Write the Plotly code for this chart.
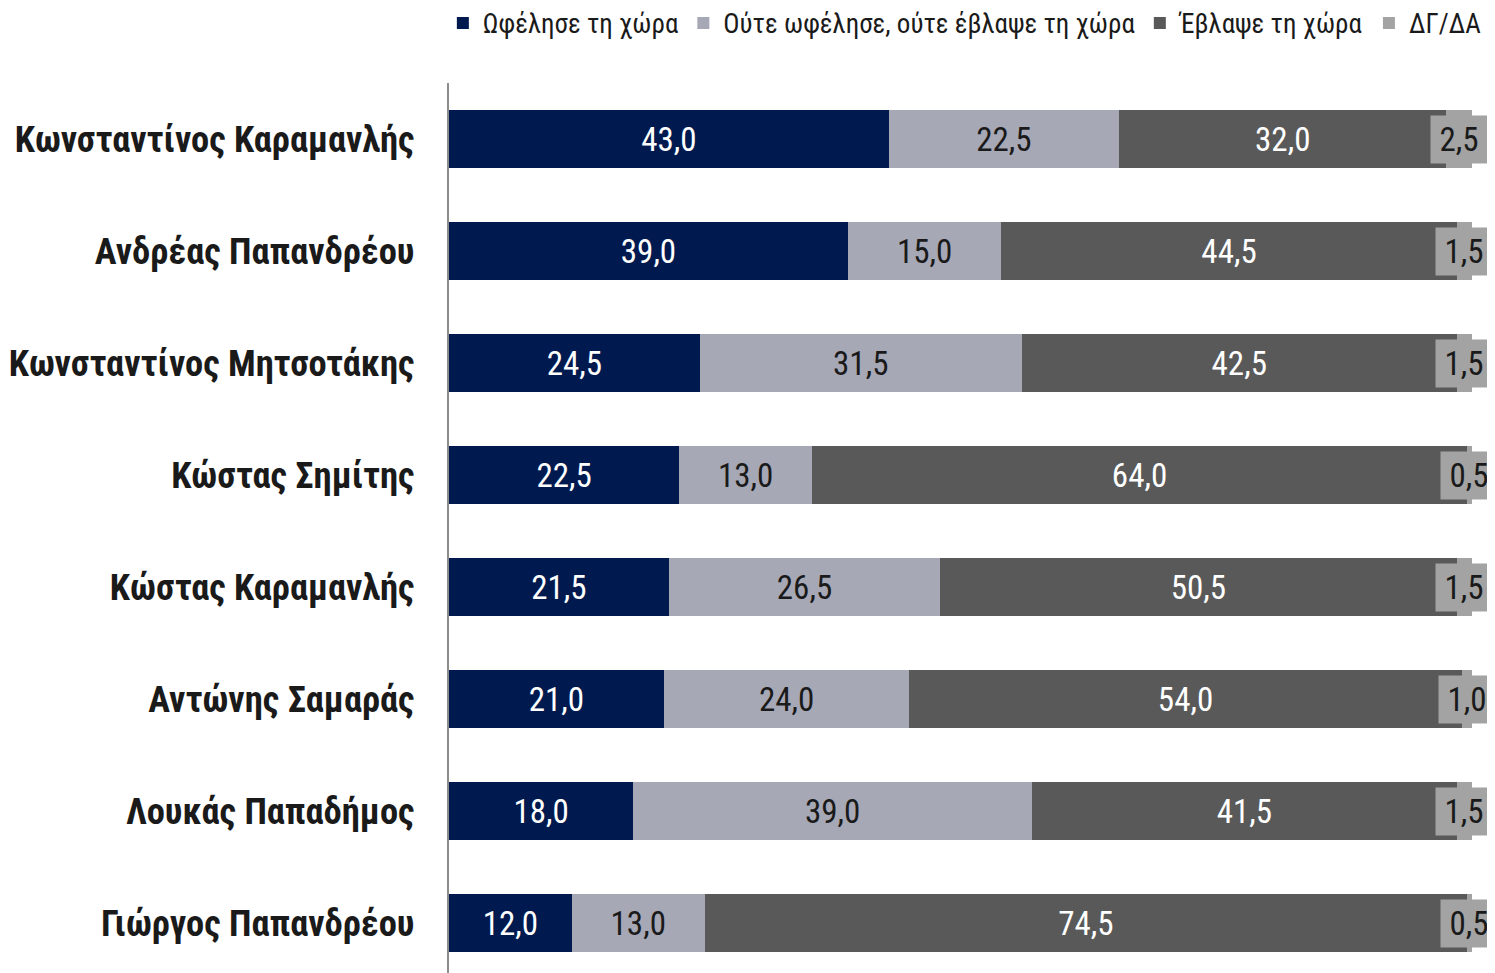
import plotly.graph_objects as go

categories = ["Κωνσταντίνος Καραμανλής", "Ανδρέας Παπανδρέου", "Κωνσταντίνος Μητσοτάκης",
              "Κώστας Σημίτης", "Κώστας Καραμανλής", "Αντώνης Σαμαράς",
              "Λουκάς Παπαδήμος", "Γιώργος Παπανδρέου"]
benefited = [43.0, 39.0, 24.5, 22.5, 21.5, 21.0, 18.0, 12.0]
neither = [22.5, 15.0, 31.5, 13.0, 26.5, 24.0, 39.0, 13.0]
harmed = [32.0, 44.5, 42.5, 64.0, 50.5, 54.0, 41.5, 74.5]
dkna = [2.5, 1.5, 1.5, 0.5, 1.5, 1.0, 1.5, 0.5]
series_names = ["Ωφέλησε τη χώρα", "Ούτε ωφέλησε, ούτε έβλαψε τη χώρα", "Έβλαψε τη χώρα", "ΔΓ/ΔΑ"]

colors = ["#001a50", "#a6a8b6", "#595959", "#a3a3a3"]
text_colors = ["white", "#1a1a1a", "white", "#1a1a1a"]
NARROW = "Liberation Sans Narrow, Arial Narrow, Roboto Condensed, Roboto, sans-serif"

fig = go.Figure()
for i, (name, vals) in enumerate(zip(series_names, [benefited, neither, harmed, dkna])):
    fig.add_trace(go.Bar(
        y=categories, x=vals, name=name, orientation="h",
        marker=dict(color=colors[i], line=dict(width=0)),
        texttemplate="%{x:.1f}" if i < 3 else None,
        textposition="inside" if i < 3 else "none",
        insidetextanchor="middle",
        textfont=dict(family=NARROW, size=33, color=text_colors[i]),
        hoverinfo="skip",
    ))

# ΔΓ/ΔΑ labels with background box, centered on their segment
for cat, b, n, h, d in zip(categories, benefited, neither, harmed, dkna):
    fig.add_annotation(
        x=b + n + h + d / 2, y=cat, text=f"{d:.1f}".replace(".", ","),
        showarrow=False, bgcolor=colors[3],
        font=dict(family=NARROW, size=33, color="#1a1a1a"),
        width=48, height=39, borderpad=4, align="center", valign="middle",
        xref="x", yref="y",
    )

# page body has an 8px default margin, so figure is 8px smaller than the window
fig.update_layout(
    barmode="stack", bargap=0.48,
    separators=", ",
    width=1487, height=965,
    margin=dict(l=441, r=23, t=75, b=0, autoexpand=False),
    plot_bgcolor="white", paper_bgcolor="white",
    showlegend=True,
    legend=dict(orientation="h", x=-0.006, xanchor="left", y=1.067, yanchor="middle",
                font=dict(family=NARROW, size=27, color="#1a1a1a"),
                traceorder="normal", itemwidth=30, tracegroupgap=0),
    xaxis=dict(range=[0, 100], visible=False, fixedrange=True),
    yaxis=dict(autorange=False, range=[7.446, -0.5], showline=True, linecolor="#8c8c8c",
               linewidth=2, ticks="", ticklen=0,
               tickfont=dict(family=NARROW, size=36.5, color="#1a1a1a", weight="bold"),
               ticksuffix="   "),
    font=dict(family=NARROW),
)

fig.write_html("out.html")
